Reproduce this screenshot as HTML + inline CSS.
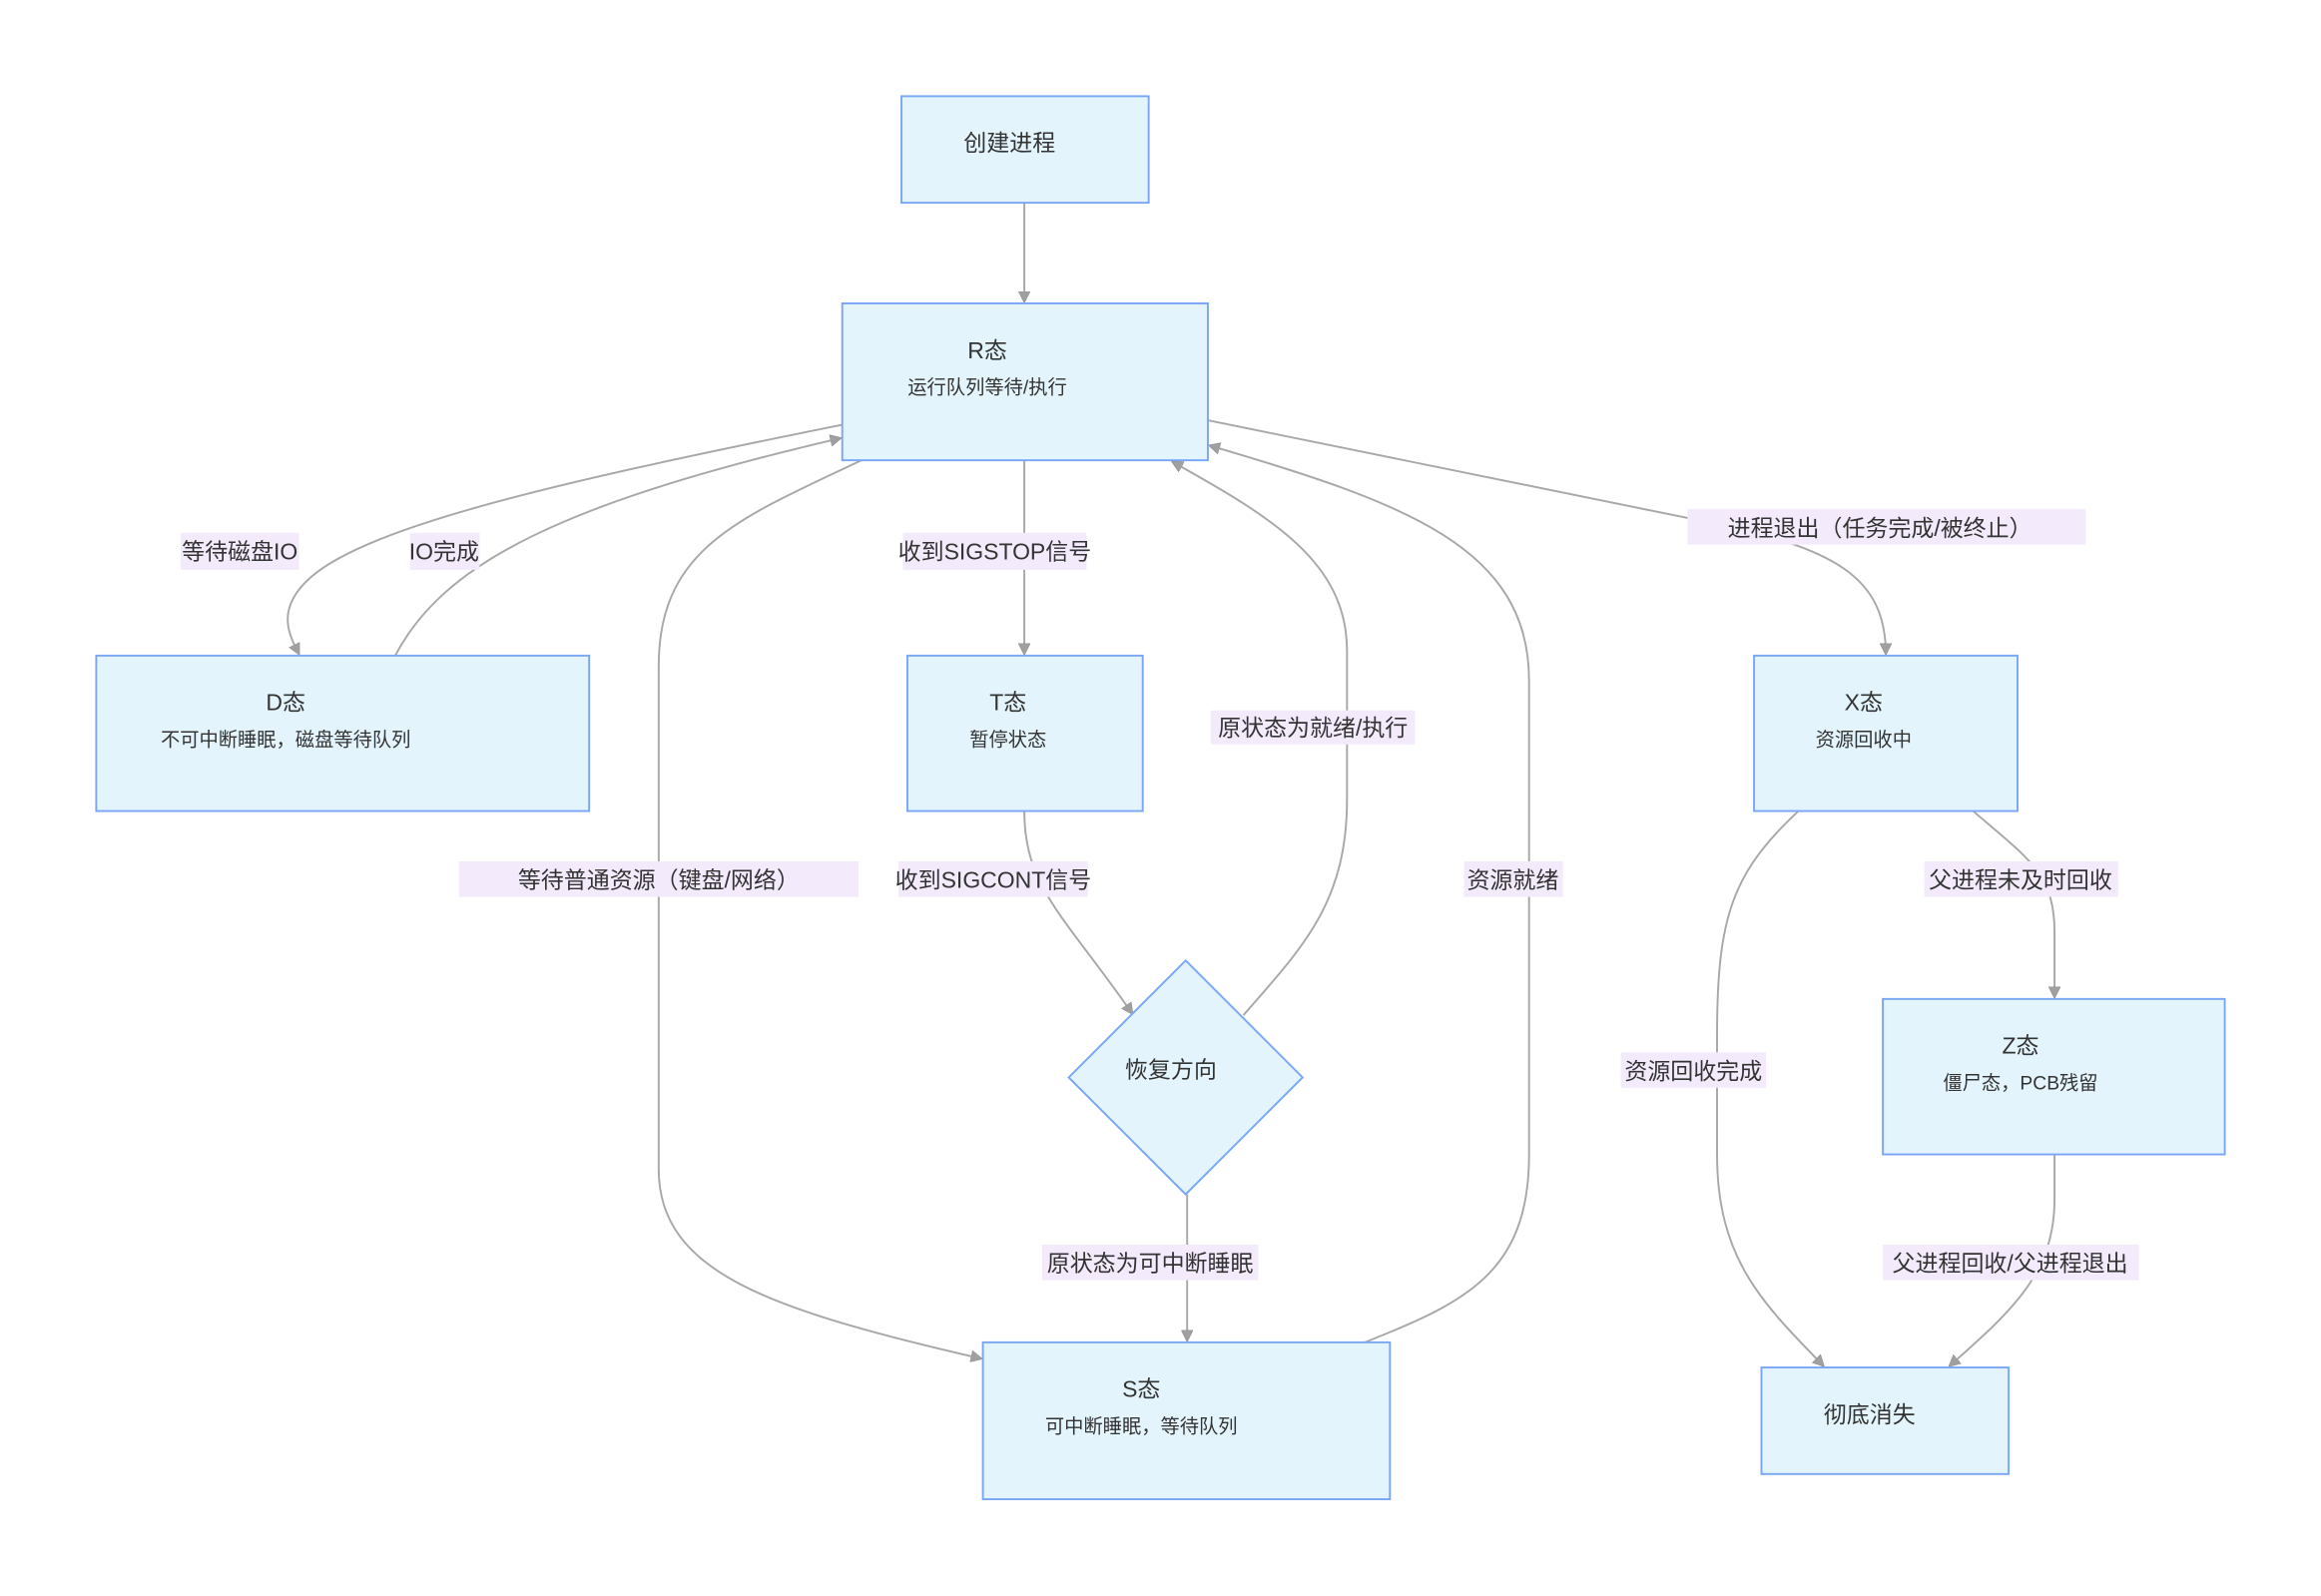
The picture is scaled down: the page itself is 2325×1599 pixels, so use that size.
<!DOCTYPE html>
<html><head><meta charset="utf-8"><style>
html,body{margin:0;padding:0;background:#fff;}
svg{display:block;}
text{font-family:"Liberation Sans","Noto Sans CJK SC",sans-serif;fill:#333;}
.n{fill:#e3f4fd;stroke:#7aa7f5;stroke-width:1.3;}
.e{fill:none;stroke:#a8a8a8;stroke-width:1.3;}
.lb{fill:#f3eafc;}
.t1{font-size:15.5px;}
.t2{font-size:13px;}
.l{font-size:15.5px;}
</style></head><body>
<svg width="2325" height="1599" viewBox="0 0 1568 1078.4" xmlns="http://www.w3.org/2000/svg">
<defs><marker id="a" viewBox="0 0 10 10" refX="9" refY="5" markerWidth="8" markerHeight="8" orient="auto-start-reverse" markerUnits="userSpaceOnUse"><path d="M0,0L10,5L0,10z" fill="#a0a0a0" stroke="#909090" stroke-width="0.5"/></marker></defs>

<!-- edges -->
<path class="e" marker-end="url(#a)" d="M692,137 L692,204"/>
<path class="e" marker-end="url(#a)" d="M569,287 C380,325 250,355 210,390 C185,412 196,430 202,442"/>
<path class="e" marker-end="url(#a)" d="M267,443 C300,380 380,340 568,296"/>
<path class="e" marker-end="url(#a)" d="M582,311 C500,350 445,370 445,450 L445,790 C445,860 520,885 663,918"/>
<path class="e" marker-end="url(#a)" d="M692,311 L692,442"/>
<path class="e" marker-end="url(#a)" d="M692,548 C692,600 720,620 765,685"/>
<path class="e" marker-end="url(#a)" d="M840,686 C880,640 910,610 910,540 L910,440 C910,380 860,350 792,312"/>
<path class="e" marker-end="url(#a)" d="M802,807 L802,906"/>
<path class="e" marker-end="url(#a)" d="M922,907 C990,880 1033,860 1033,780 L1033,460 C1033,370 950,340 817,301"/>
<path class="e" marker-end="url(#a)" d="M816,284 L1150,352 C1240,370 1274,390 1274,442"/>
<path class="e" marker-end="url(#a)" d="M1215,548 C1170,590 1160,620 1160,700 L1160,780 C1160,850 1190,880 1232,923"/>
<path class="e" marker-end="url(#a)" d="M1333,548 C1370,580 1388,590 1388,630 L1388,674"/>
<path class="e" marker-end="url(#a)" d="M1388,780 L1388,810 C1388,860 1360,885 1317,923"/>

<!-- edge labels -->
<rect class="lb" x="122" y="360" width="80" height="25"/><text class="l" x="162" y="378" text-anchor="middle">等待磁盘IO</text>
<rect class="lb" x="277" y="360" width="47" height="25"/><text class="l" x="300" y="378" text-anchor="middle">IO完成</text>
<rect class="lb" x="310" y="582" width="270" height="24"/><text class="l" x="445" y="600" text-anchor="middle">等待普通资源（键盘/网络）</text>
<rect class="lb" x="610" y="360" width="124" height="25"/><text class="l" x="672" y="378" text-anchor="middle">收到SIGSTOP信号</text>
<rect class="lb" x="607" y="582" width="128" height="24"/><text class="l" x="671" y="600" text-anchor="middle">收到SIGCONT信号</text>
<rect class="lb" x="818" y="480" width="138" height="23"/><text class="l" x="887" y="497" text-anchor="middle">原状态为就绪/执行</text>
<rect class="lb" x="704" y="841" width="146" height="24"/><text class="l" x="777" y="859" text-anchor="middle">原状态为可中断睡眠</text>
<rect class="lb" x="989" y="582" width="67" height="24"/><text class="l" x="1022" y="600" text-anchor="middle">资源就绪</text>
<rect class="lb" x="1140" y="344" width="269" height="24"/><text class="l" x="1270" y="362" text-anchor="middle">进程退出（任务完成/被终止）</text>
<rect class="lb" x="1095" y="711" width="98" height="24"/><text class="l" x="1144" y="729" text-anchor="middle">资源回收完成</text>
<rect class="lb" x="1300" y="582" width="131" height="24"/><text class="l" x="1365" y="600" text-anchor="middle">父进程未及时回收</text>
<rect class="lb" x="1272" y="841" width="173" height="24"/><text class="l" x="1358" y="859" text-anchor="middle">父进程回收/父进程退出</text>

<!-- nodes -->
<rect class="n" x="609" y="65" width="167" height="72"/><text class="t1" x="682" y="102" text-anchor="middle">创建进程</text>
<rect class="n" x="569" y="205" width="247" height="106"/><text class="t1" x="667" y="242" text-anchor="middle">R态</text><text class="t2" x="667" y="266" text-anchor="middle">运行队列等待/执行</text>
<rect class="n" x="65" y="443" width="333" height="105"/><text class="t1" x="193" y="480" text-anchor="middle">D态</text><text class="t2" x="193" y="504" text-anchor="middle">不可中断睡眠，磁盘等待队列</text>
<rect class="n" x="613" y="443" width="159" height="105"/><text class="t1" x="681" y="480" text-anchor="middle">T态</text><text class="t2" x="681" y="504" text-anchor="middle">暂停状态</text>
<rect class="n" x="1185" y="443" width="178" height="105"/><text class="t1" x="1259" y="480" text-anchor="middle">X态</text><text class="t2" x="1259" y="504" text-anchor="middle">资源回收中</text>
<polygon class="n" points="801,649 880,728 801,807 722,728"/><text class="t1" x="791" y="728" text-anchor="middle">恢复方向</text>
<rect class="n" x="1272" y="675" width="231" height="105"/><text class="t1" x="1365" y="712" text-anchor="middle">Z态</text><text class="t2" x="1365" y="736" text-anchor="middle">僵尸态，PCB残留</text>
<rect class="n" x="664" y="907" width="275" height="106"/><text class="t1" x="771" y="944" text-anchor="middle">S态</text><text class="t2" x="771" y="968" text-anchor="middle">可中断睡眠，等待队列</text>
<rect class="n" x="1190" y="924" width="167" height="72"/><text class="t1" x="1263" y="961" text-anchor="middle">彻底消失</text>
</svg>
</body></html>
